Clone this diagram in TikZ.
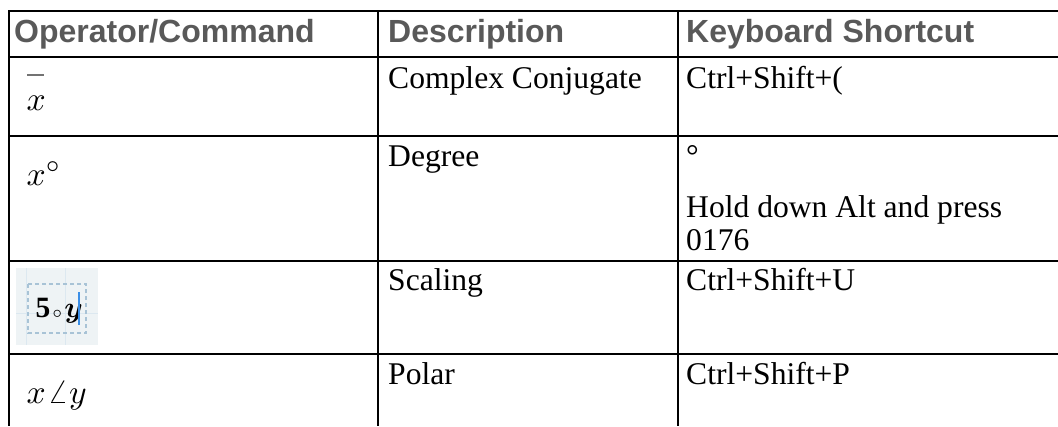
\documentclass[tikz,border=0pt]{standalone}
\usepackage{amsmath}
\usepackage{fontspec}
\setmainfont{Liberation Serif}
\newfontfamily\hdrfont{Liberation Sans}
\usetikzlibrary{calc}
\definecolor{hdrgray}{HTML}{595959}
\definecolor{boxfill}{HTML}{EEF3F5}
\definecolor{boxedge}{HTML}{A8C3D6}
\definecolor{gridline}{HTML}{DCE8F0}
\definecolor{cursorblue}{HTML}{3A8EE6}

\begin{document}
\begin{tikzpicture}[x=1pt, y=-1pt,
    rule/.style={line width=2.2pt, black},
    hdr/.style={anchor=base west, inner sep=0pt, text=hdrgray, font=\hdrfont\bfseries\fontsize{32}{36}\selectfont},
    cell/.style={anchor=base west, inner sep=0pt, font=\fontsize{31.6}{33}\selectfont},
    mth/.style={anchor=base west, inner sep=0pt, text=black, font=\fontsize{10}{12}\selectfont, scale=3.35, transform shape}]

                    \useasboundingbox (0,0) rectangle (1058,426);

                    % table rules
                    \draw[rule] (1058,11) -- (9,11) -- (9,426);
                    \draw[rule] (9,57) -- (1058,57);
                    \draw[rule] (9,136) -- (1058,136);
                    \draw[rule] (9,261) -- (1058,261);
                    \draw[rule] (9,354) -- (1058,354);
                    \draw[rule] (378,11) -- (378,426);
                    \draw[rule] (678,11) -- (678,426);

                    % header
                    \node[hdr] (hop) at (14,42) {Operator/Command};
                    \node[hdr] (hdesc) at (388,42) {Description};
                    \node[hdr] (hkey) at (686,42) {Keyboard Shortcut};

                    % operators
                    \node[mth] (conj) at (26,110) {$x$};
                    \fill[black!55] (27,74) rectangle (44,76);
                    \node[mth] (deg) at (26,185) {$x^{\circ}$};
                    \fill[boxfill] (16,268) rectangle (98,345);
                    \draw[gridline, thin] (26,268) -- (26,345) (65,268) -- (65,345) (16,313) -- (98,313);
                    \draw[boxedge, line width=1.2pt, dash pattern=on 4pt off 3pt] (28,284) rectangle (86,333);
                    \node[mth, scale=0.88] (scale) at (35,317) {$\mathbf{5}\mkern1mu{\scriptscriptstyle\circ}\mkern1mu\boldsymbol{y}$};
                    \draw[cursorblue, line width=2pt] (79,292) -- (79,325);
                    \node[mth] (polar) at (26,403) {$x\mkern1mu\angle y$};

                    % descriptions
                    \node[cell] (dconj) at (388,88) {Complex Conjugate};
                    \node[cell] (ddeg) at (388,166) {Degree};
                    \node[cell] (dscale) at (388,290) {Scaling};
                    \node[cell] (dpolar) at (388,384) {Polar};

                    % shortcuts
                    \node[cell] (kconj) at (686,88) {Ctrl+Shift+(};
                    \node[cell] (kdeg) at (686,166) {°};
                    \node[cell] (khold) at (686,217) {Hold down Alt and press};
                    \node[cell] (kcode) at (686,250) {0176};
                    \node[cell] (kscale) at (686,290) {Ctrl+Shift+U};
                    \node[cell] (kpolar) at (686,384) {Ctrl+Shift+P};

                \end{tikzpicture}
\end{document}
